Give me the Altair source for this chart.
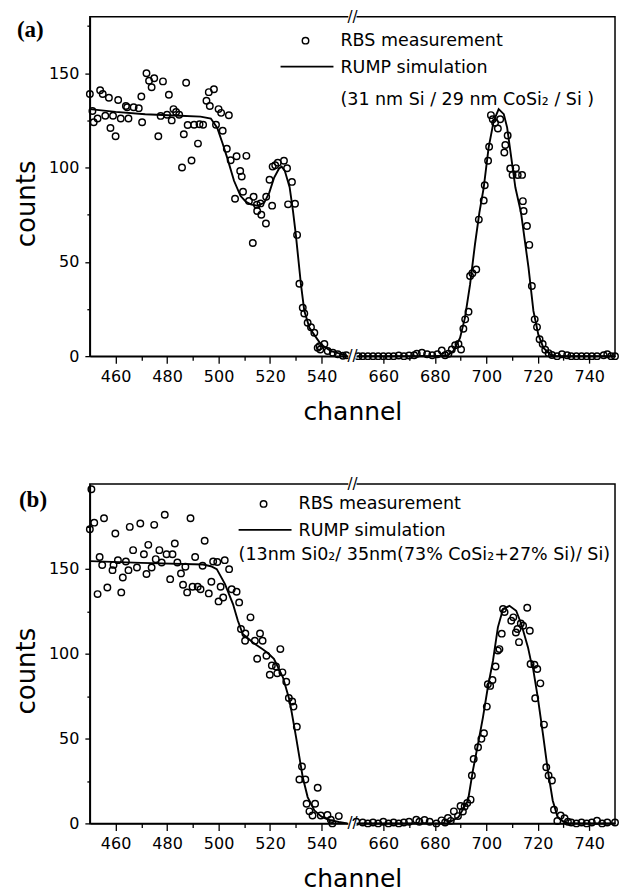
import altair as alt
import pandas as pd

# ---------------- data ----------------
# Panel (a): RBS measurement
A_MEAS_CH = [450, 451, 451.5, 453, 454, 455, 456, 457.4, 458, 459, 460, 461, 462, 464, 464.5, 465,
             467, 469, 470, 470.3, 472, 473, 474, 475, 476.6, 477.5, 478.4, 480, 480.7, 481.8,
             482.5, 483.5, 484.7, 485.8, 486.5, 487.4, 488, 489.5, 490.5, 492, 492.6, 494, 495.3,
             496.2, 496.6, 498.2, 499, 500, 501, 501.6, 503.2, 504, 504.7, 506.4, 507, 508.4, 509,
             509.5, 510.8, 511.8, 513.3, 513.6, 514.9, 515, 516.3, 516.6, 518.4, 518.5, 519.8,
             520.8, 521, 522, 523, 525.4, 526.6, 527, 528.5, 529.7, 530.5, 531.4, 532.7, 533.3,
             534.6, 535.9, 537.2, 538.5, 539.2, 539.5, 541.1, 542.4, 544.4, 546.3, 548.3, 549.6,
             650.3, 652, 654, 656, 658, 660, 662, 664, 666, 668, 670, 672, 673, 675, 677, 679, 681,
             682.7, 684, 685.3, 686.6, 687.9, 689.2, 690.2, 691.1, 691.8, 693.1, 693.7, 694.6,
             696.1, 697.1, 699, 699.4, 700.7, 701.1, 701.8, 702.5, 703.4, 704.5, 705.4, 707, 707.4,
             708.3, 709.3, 710.2, 711.5, 712.2, 713.9, 714.2, 714.5, 715.8, 716.7, 717.7, 718.8,
             719.7, 720.7, 721.9, 722.9, 724.2, 725.5, 727.5, 729.4, 731.4, 733, 735, 737, 739,
             741, 743, 745.6, 747, 748.5, 750]
A_MEAS_CT = [139, 130, 124, 126, 141, 139, 127.5, 137, 121, 127.5, 116.6, 135.8, 126, 132.6, 132, 126,
             132, 131.5, 137.7, 124, 150, 146, 142.6, 147.4, 116.6, 127.4, 145.7, 128, 138.6, 125,
             131, 129.5, 128, 100, 117.7, 145, 122.6, 103.7, 122.7, 112.7, 123, 122.7, 135.4,
             140, 132.6, 141.5, 122.7, 131, 129, 119.5, 110, 127.7, 103.9, 83.5, 106, 98.2, 95.2,
             87.2, 106.2, 82.3, 60, 84.5, 80.3, 77, 81, 75, 70.3, 84.5, 93.5,
             79.8, 100.5, 101.2, 102.6, 103.6, 99.6, 80.5, 92.4, 80.8, 64.3, 38.4, 25.7, 22.6,
             17.7, 15.3, 12.4, 4.4, 5.3, 3.5, 6.5, 2.7, 1.8, 1, 0.2, 0.5,
             0, 0, 0, 0, 0, 0, 0, 0, 0.3, 0, 0.3, 0.5, 1.3, 1.8, 1, 0.5, 1,
             3, 0.5, 1.3, 3.5, 5.8, 6.5, 3.5, 14.5, 19.5, 23.5, 42.5, 44,
             46, 72.4, 82.5, 90.6, 103.6, 111, 127.8, 125.6, 123.8, 120.7, 125.6, 108, 112,
             117, 99.5, 96.1, 99.7, 96, 96.1, 82.2, 77, 69, 59, 37.2, 19.5,
             15.4, 9, 6.5, 3.4, 1.6, 0.6, 0, 1, 0.5, 0, 0, 0, 0,
             0, 0, 0.5, 1, 0, 0]
# Panel (a): RUMP simulation
A_SIM_CH = [450, 460, 471.5, 485, 493, 497, 499.5, 501.5, 503.4, 506, 508.5, 510.5, 512.5, 515,
            517.7, 519.7, 521.6, 523.5, 524.5, 525.7, 527.6, 528.9, 530, 532, 533.3, 535.3, 537.6,
            539.8, 543.7, 548.9, 550,
            650, 680, 685, 687.2, 689.8, 691.7, 693.7, 695.6, 697.3, 699, 700.9, 702.9, 704.8,
            706.8, 708.1, 709.7, 711.3, 713.5, 716.4, 718.3, 720.2, 722.2, 724.8, 726.7, 750]
A_SIM_CT = [131, 129.5, 128.3, 127.5, 127, 126, 121, 113, 105, 93, 85, 82, 80.5, 79.7,
            81.3, 86.7, 94.7, 99.5, 100.5, 98.4, 89.6, 77, 64.6, 38, 24, 15, 10.5,
            6.2, 2.7, 0.7, 0,
            0, 0, 0.5, 2.7, 9.7, 20.3, 38, 59.3, 76, 89.4, 110.6, 124.8, 131,
            128.3, 121.2, 105.3, 89.4, 76, 46.9, 24, 11.5, 4.4, 1, 0, 0]

# Panel (b): RBS measurement
B_MEAS_CH = [450, 450.6, 451.7, 453, 453.8, 454.8, 455.5, 456.8, 458.8, 459.2, 459.9, 460.9, 462.2,
             462.8, 464, 465, 465.5, 466.8, 468.3, 469.6, 471, 472, 472.7, 474, 475, 475.6, 477,
             477.9, 479.1, 479.8, 481.2, 482.1, 483, 484, 485.4, 486.2, 487.1, 487.8, 489.1, 489.9,
             490.9, 491.9, 493, 493.8, 494.6, 496.2, 497.2, 497.9, 499.5, 500, 500.8, 501.8, 502.4,
             504.1, 505.1, 507, 508, 508.7, 510.3, 510.4, 512.4, 514.1, 515, 516.1, 517.1, 518.6,
             519.9, 520.7, 522.3, 522.8, 524, 524.8, 526.3, 527.3, 528.6, 529.1, 530.4, 531.4,
             532.4, 533.7, 534.2, 535.3, 536.5, 537.5, 538.5, 539.7, 542.3, 543.6, 544.2, 546.7,
             649.5, 652, 654, 656, 658, 660, 662, 664, 666, 668, 670, 672.8, 674, 676, 678, 680.6,
             682.6, 684, 685.1, 686.2, 687.4, 689, 690, 690.9, 691.6, 692.6, 693.9, 694.4, 695.1,
             696.8, 698.1, 699.1, 700.2, 700.6, 701.5, 702.4, 703.6, 704.5, 705.1, 706, 706.5,
             707.1, 709.7, 710.5, 711.5, 712.1, 712.7, 713.4, 714.3, 715.9, 716.9, 717.2, 718.7,
             719, 719.8, 721, 722.4, 723.3, 724.2, 725.5, 726.3, 727.6, 728.9, 730.4, 731.7, 733,
             735, 737, 739, 741, 743, 745, 747, 750]
B_MEAS_CT = [173.3, 196.9, 177.2, 135.1, 157, 152.2, 179.8, 139, 149.2, 152.3, 170.8, 155.1, 136.1,
             144.9, 154.3, 149.2, 174.7, 161, 150.8, 176.7, 158.6, 146.9, 164.1, 150.8, 175.9, 155.7, 161,
             153.7, 181.8, 158.6, 143.9, 158.6, 164.9, 153.7, 147.3, 140.6, 151.2, 136.1, 179.8, 139.4,
             157, 139.4, 138, 151.8, 166.5, 135.5, 142.4, 154.3, 154, 130.8, 139.4, 133.1, 155.1,
             149.8, 138, 136.5, 130.2, 114.5, 107.6, 111.9, 121.4, 107.6, 97, 111.9, 107.6, 98.8,
             87.6, 93, 92.4, 88.4, 102.7, 89, 83.5, 73.9, 71.8, 68.8, 57, 25.9,
             33.5, 25.9, 11.6, 7.1, 4.7, 11.6, 21, 4.7, 5, 2.2, 0, 4.3,
             1, 0.5, 0, 0.5, 0, 1, 0, 0.5, 0, 0.5, 1, 2.2, 1, 2, 1, 0,
             1.8, 0.5, 3.2, 1.5, 7.1, 4.3, 10.2, 7, 10, 12, 14, 28.2, 38,
             44.9, 49.8, 53.1, 68.8, 82, 81, 84.5, 92.4, 101.8, 102.7, 111.8, 126.3,
             124.5, 119.4, 121.4, 112.5, 114.5, 106.8, 117.8, 116.5, 127.1, 113.5, 93.9, 93.5,
             73.7, 91, 82.5, 58.2, 33.1, 28.2, 25.3, 8, 1.4, 4.7, 3, 1, 0.5,
             0, 0.5, 0, 0.5, 1.6, 0, 0.5, 0.5]
# Panel (b): RUMP simulation
B_SIM_CH = [450, 470, 494, 497, 499.3, 502.5, 505.6, 507.5, 509.4, 513.2, 517, 519, 521.5, 525,
            527.6, 530.1, 532.7, 534.6, 537.2, 540, 543, 546.7, 550,
            650, 685, 689.2, 692.9, 694.8, 696.8, 698.7, 700.6, 702.6, 704.5, 706.5, 709, 711.6,
            713.6, 716.2, 717.3, 718.1, 720, 722, 723.9, 725.8, 727.7, 730.3, 732, 750]
B_SIM_CT = [154.5, 153.5, 152.5, 151.5, 149.8, 141, 129.2, 119.4, 111.6, 106.7, 102.7, 100.5, 96.9, 86.1,
            72.4, 50.8, 27.2, 15.5, 7.6, 4, 2, 0.8, 0,
            0, 0, 3.7, 13.5, 31.2, 46.9, 62.5, 80.2, 95.9, 115.5, 126.3, 128.2, 125.3,
            117.5, 103.7, 95.9, 91.9, 74.3, 52.8, 31.2, 13.5, 3.7, 0.6, 0, 0]

# tick labels
X_MAJOR = [460, 480, 500, 520, 540, 660, 680, 700, 720, 740]
X_MINOR = [470, 490, 510, 530, 670, 690, 710, 730]
A_Y_TICKS = [0, 25, 50, 75, 100, 125, 150, 175]
B_Y_TICKS = [0, 25, 50, 75, 100, 125, 150, 175]

LEG_MEAS = "RBS measurement"
LEG_SIM = "RUMP simulation"
A_NOTE = "(31 nm Si / 29 nm CoSi\u2082 / Si )"
B_NOTE = "(13nm Si0\u2082/ 35nm(73% CoSi\u2082+27% Si)/ Si)"

# ---------------- layout helpers ----------------
SHIFT = 96          # right segment (650-750) is drawn shifted left, leaving a small gap
BREAK = 552         # position of the axis break in plotted units
W, H = 526, 340
SANS = "DejaVu Sans"
LEG_FS = 17.5


def to_plot(c):
    return c - SHIFT if c > 600 else c


X_TICKS = sorted(to_plot(c) for c in X_MAJOR + X_MINOR)
ORIG = f"(datum.value > {BREAK} ? datum.value + {SHIFT} : datum.value)"
X_LABEL_EXPR = f"{ORIG} % 20 == 0 ? format({ORIG}, 'd') : ''"
X_CALC = f"datum.channel > 600 ? datum.channel - {SHIFT} : datum.channel"
SEG_CALC = "datum.channel > 600 ? 'R' : 'L'"

one = alt.Data(values=[{}])


def panel(mc, mv, sc, sv, ymax, yticks, tag, tag_pos, leg, note, note_pos):
    meas = pd.DataFrame({"channel": mc, "counts": mv})
    sim = pd.DataFrame({"channel": sc, "counts": sv})
    xscale = alt.Scale(domain=[450, 654], nice=False, zero=False)
    yscale = alt.Scale(domain=[0, ymax], nice=False, zero=True)
    xaxis = alt.Axis(values=X_TICKS, labelExpr=X_LABEL_EXPR, title="channel", tickCount=60,
                     tickSize={"condition": {"test": f"{ORIG} % 20 != 0", "value": 4}, "value": 7},
                     labelPadding=5, titlePadding=15, labelFontSize=16, titleFontSize=25,
                     labelFlush=False, labelOverlap=False)
    yaxis = alt.Axis(values=yticks, labelExpr="datum.value % 50 == 0 ? datum.label : ''",
                     title="counts", tickCount=30, titleY=H / 2 + 17,
                     tickSize={"condition": {"test": "datum.value % 50 != 0", "value": 3}, "value": 5},
                     labelPadding=6, titlePadding=9, labelFontSize=16, titleFontSize=26,
                     labelOverlap=False)

    pts = alt.Chart(meas).transform_calculate(xp=X_CALC).mark_point(
        shape="circle", filled=False, color="black", size=42, strokeWidth=1.45, opacity=1
    ).encode(x=alt.X("xp:Q", scale=xscale, axis=xaxis),
             y=alt.Y("counts:Q", scale=yscale, axis=yaxis))

    line = alt.Chart(sim).transform_calculate(xp=X_CALC, seg=SEG_CALC).mark_line(
        color="black", strokeWidth=1.9
    ).encode(x="xp:Q", y="counts:Q", detail="seg:N", order="channel:Q")

    masks = []
    for yv in (0, ymax):
        masks.append(alt.Chart(one).mark_rule(color="white", strokeWidth=5).encode(
            x=alt.datum(BREAK - 1.6), x2=alt.datum(BREAK + 1.6), y=alt.datum(yv)))
        masks.append(alt.Chart(one).mark_text(text="//", font=SANS, fontSize=15,
                                               baseline="middle", align="center").encode(
            x=alt.datum(BREAK), y=alt.datum(yv)))

    lx, ly = leg  # position of the legend circle (pixels inside the plot)
    legend = [
        alt.Chart(one).mark_point(shape="circle", filled=False, color="black", size=42,
                                  strokeWidth=1.45, opacity=1).encode(
            x=alt.value(lx), y=alt.value(ly)),
        alt.Chart(one).mark_text(text=LEG_MEAS, font=SANS, fontSize=LEG_FS, align="left",
                                 baseline="middle").encode(x=alt.value(lx + 35), y=alt.value(ly)),
        alt.Chart(one).mark_rule(color="black", strokeWidth=1.9).encode(
            x=alt.value(lx - 25), x2=alt.value(lx + 28), y=alt.value(ly + 26)),
        alt.Chart(one).mark_text(text=LEG_SIM, font=SANS, fontSize=LEG_FS, align="left",
                                 baseline="middle").encode(x=alt.value(lx + 35), y=alt.value(ly + 27)),
        alt.Chart(one).mark_text(text=note, font=SANS, fontSize=LEG_FS, align="left",
                                 baseline="middle").encode(x=alt.value(note_pos[0]), y=alt.value(note_pos[1])),
    ]
    label = alt.Chart(one).mark_text(text=tag, font="Liberation Serif", fontWeight="bold",
                                     fontSize=23, align="left", baseline="middle").encode(
        x=alt.value(tag_pos[0]), y=alt.value(tag_pos[1]))

    return alt.layer(line, pts, *masks, *legend, label).properties(width=W, height=H)


pa = panel(A_MEAS_CH, A_MEAS_CT, A_SIM_CH, A_SIM_CT, 180, A_Y_TICKS, "(a)", (-73, 13),
           (216, 24), A_NOTE, (251, 83))
pb = panel(B_MEAS_CH, B_MEAS_CT, B_SIM_CH, B_SIM_CT, 200, B_Y_TICKS, "(b)", (-71, 16),
           (174, 20), B_NOTE, (149, 71))

chart = alt.vconcat(pa, pb, spacing=128).properties(
    bounds="flush", padding={"left": 12, "top": 8, "right": 0, "bottom": 0}
).configure_view(stroke="black", strokeWidth=1.5).configure_axis(
    domainColor="black", domainWidth=1.5, tickColor="black", tickWidth=1.3,
    labelColor="black", titleColor="black", grid=False, labelFont=SANS, titleFont=SANS,
    titleFontWeight="normal"
)

chart.save("out.html", embed_options={"renderer": "svg", "actions": False})
